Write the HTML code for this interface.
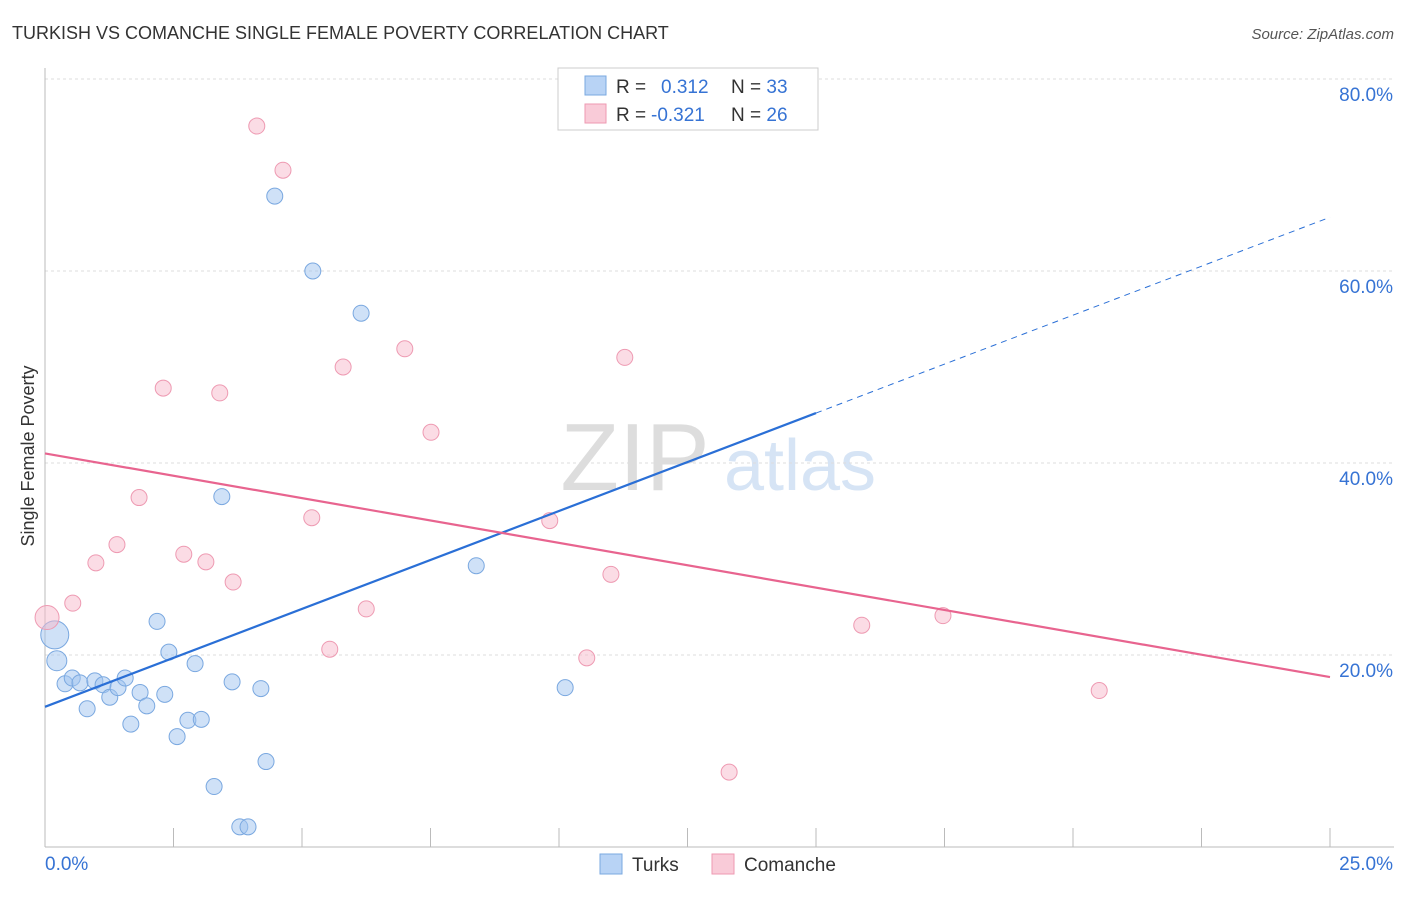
<!DOCTYPE html>
<html><head><meta charset="utf-8"><style>
body{margin:0;background:#fff;font-family:"Liberation Sans",sans-serif;}
svg text{font-family:"Liberation Sans",sans-serif;}
</style></head><body>
<svg id="chart" width="1406" height="892" xmlns="http://www.w3.org/2000/svg">
<text x="12" y="39" font-size="18" fill="#333">TURKISH VS COMANCHE SINGLE FEMALE POVERTY CORRELATION CHART</text>
<text x="1394" y="39" font-size="15" fill="#555" text-anchor="end" font-style="italic">Source: ZipAtlas.com</text>
<g><text x="635" y="490" font-size="96" fill="#ddd" text-anchor="middle" font-family="Liberation Serif,serif">ZIP</text><text x="800" y="490" font-size="72" fill="#d6e4f5" text-anchor="middle">atlas</text></g>
<g id="grid"></g><g id="axes"></g><g id="marks"></g>
<text transform="translate(34,456) rotate(-90)" font-size="18" fill="#333" text-anchor="middle">Single Female Poverty</text>
<g>
<rect x="558" y="68" width="260" height="62" fill="#fff" stroke="#ccc"/>
<rect x="585" y="76" width="21" height="19" fill="#b8d3f5" stroke="#7aa8e0"/>
<rect x="585" y="104" width="21" height="19" fill="#f9cbd8" stroke="#ee9ab2"/>
<text x="616" y="93" font-size="19" fill="#333">R = <tspan fill="#3673d4" x="661">0.312</tspan><tspan x="731">N = </tspan><tspan fill="#3673d4">33</tspan></text>
<text x="616" y="121" font-size="19" fill="#333">R = <tspan fill="#3673d4" x="651">-0.321</tspan><tspan x="731">N = </tspan><tspan fill="#3673d4">26</tspan></text>
</g>
<g>
<rect x="600" y="854" width="22" height="20" fill="#b8d3f5" stroke="#7aa8e0"/>
<text x="632" y="871" font-size="19" fill="#333">Turks</text>
<rect x="712" y="854" width="22" height="20" fill="#f9cbd8" stroke="#ee9ab2"/>
<text x="744" y="871" font-size="19" fill="#333">Comanche</text>
</g>
</svg>
<script>
const yTicks=[20,40,60,80];
const yTickLabels=["20.0%","40.0%","60.0%","80.0%"];
const xTickLabels=["0.0%","25.0%"];
const turksX=[0.19,0.23,0.39,0.53,0.68,0.82,0.97,1.13,1.26,1.42,1.56,1.67,1.85,1.98,2.18,2.33,2.41,2.57,2.78,2.92,3.04,3.29,3.44,3.64,3.79,3.95,4.20,4.30,4.47,5.21,6.15,8.39,10.12];
const turksY=[22.1,19.4,17.0,17.6,17.1,14.4,17.3,16.9,15.6,16.6,17.6,12.8,16.1,14.7,23.5,15.9,20.3,11.5,13.2,19.1,13.3,6.3,36.5,17.2,2.1,2.1,16.5,8.9,67.8,60.0,55.6,29.3,16.6];
const comX=[0.04,0.54,0.99,1.40,1.83,2.30,2.70,3.13,3.40,3.66,4.12,4.63,5.19,5.54,5.80,6.25,7.00,7.51,9.82,10.54,11.01,11.28,13.31,15.89,17.47,20.51];
const comY=[23.9,25.4,29.6,31.5,36.4,47.8,30.5,29.7,47.3,27.6,75.1,70.5,34.3,20.6,50.0,24.8,51.9,43.2,34.0,19.7,28.4,51.0,7.8,23.1,24.1,16.3];
const turksTrend=[14.6,65.6];
const comTrend=[41.0,17.7];
const NS="http://www.w3.org/2000/svg";
const X=v=>45+v*51.4, Y=v=>847-v*9.6;
function mk(p,t,a){const e=document.createElementNS(NS,t);for(const k in a)e.setAttribute(k,a[k]);document.getElementById(p).appendChild(e);return e;}
mk('grid','line',{x1:45,y1:79,x2:1394,y2:79,stroke:'#ddd','stroke-dasharray':'3,3'});
yTicks.forEach((t,i)=>{
const l=mk('grid','line',{x1:45,y1:Y(t),x2:1394,y2:Y(t),stroke:'#ddd','stroke-dasharray':'3,3'});


const tx=mk('axes','text',{x:1393,y:Y(t)+22,'font-size':19,fill:'#3673d4','text-anchor':'end'});tx.textContent=yTickLabels[i];


});
mk('axes','line',{x1:45,y1:68,x2:45,y2:847,stroke:'#bbb'});
mk('axes','line',{x1:45,y1:847,x2:1394,y2:847,stroke:'#bbb'});
for(let i=1;i<=10;i++){mk('axes','line',{x1:X(i*2.5),y1:828,x2:X(i*2.5),y2:847,stroke:'#bbb'});}
let a=mk('axes','text',{x:45,y:870,'font-size':19,fill:'#3673d4'});a.textContent=xTickLabels[0];


a=mk('axes','text',{x:1393,y:870,'font-size':19,fill:'#3673d4','text-anchor':'end'});a.textContent=xTickLabels[1];


turksX.forEach((x,i)=>{const c=mk('marks','circle',{cx:X(x),cy:Y(turksY[i]),r:i==0?14:i==1?10:8,fill:'rgba(160,196,240,0.5)',stroke:'#7aa8e0'});

});
comX.forEach((x,i)=>{const c=mk('marks','circle',{cx:X(x),cy:Y(comY[i]),r:i==0?12:8,fill:'rgba(247,186,204,0.5)',stroke:'#ee9ab2'});

});
const tf=x=>turksTrend[0]+(turksTrend[1]-turksTrend[0])*x/25;
let l=mk('marks','line',{x1:X(0),y1:Y(tf(0)),x2:X(15),y2:Y(tf(15)),stroke:'#2a6fd6','stroke-width':2.2});


l=mk('marks','line',{x1:X(15),y1:Y(tf(15)),x2:X(25),y2:Y(tf(25)),stroke:'#2a6fd6','stroke-width':1,'stroke-dasharray':'6,5'});


l=mk('marks','line',{x1:X(0),y1:Y(comTrend[0]),x2:X(25),y2:Y(comTrend[1]),stroke:'#e8648f','stroke-width':2.2});


</script>
</body></html>
